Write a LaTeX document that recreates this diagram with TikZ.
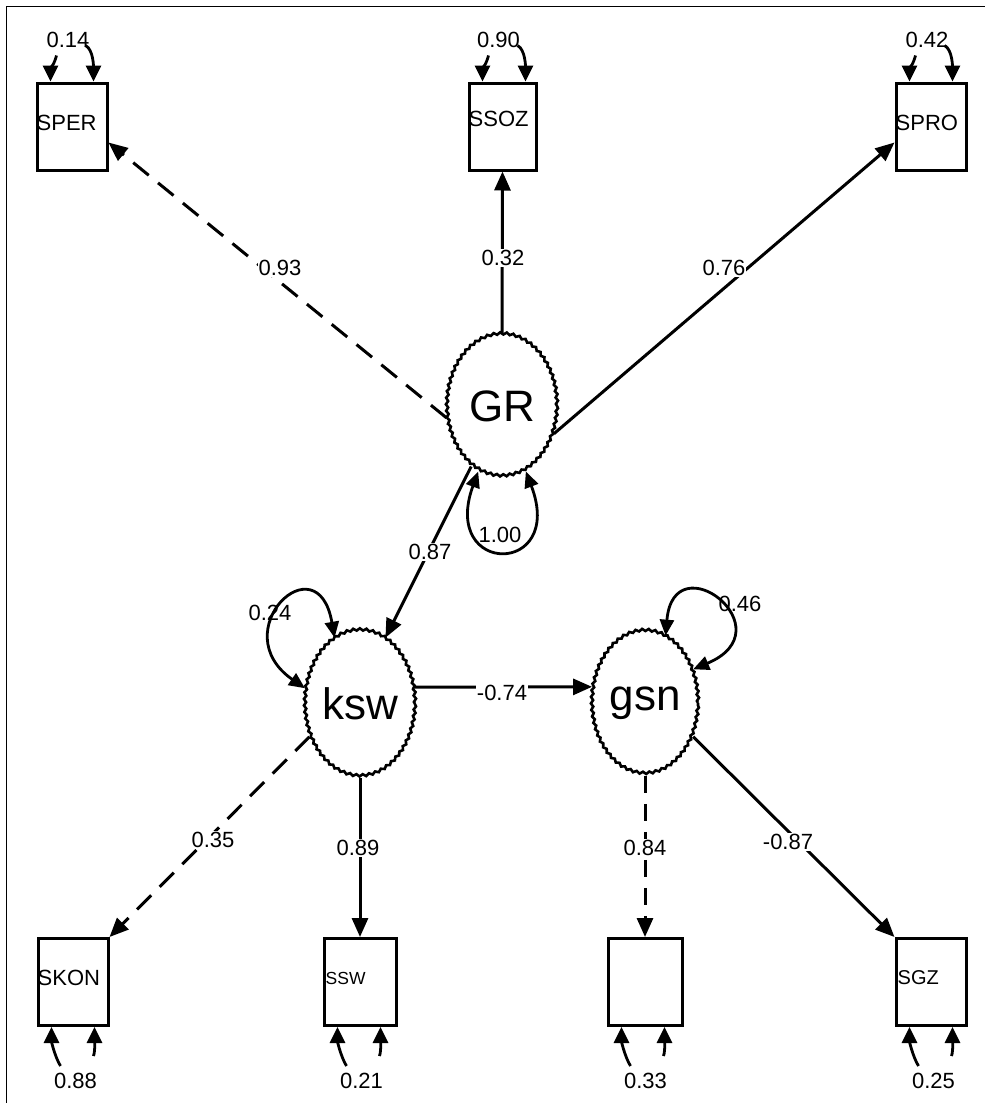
\documentclass[tikz,border=0pt]{standalone}
\usepackage{fontspec}
\setmainfont{Liberation Sans}
\usetikzlibrary{arrows.meta, shapes.geometric, decorations.pathmorphing, calc}
\begin{document}
\begin{tikzpicture}[x=1pt, y=-1pt,
  obs/.style={draw, line width=3pt, rectangle, minimum width=70pt, minimum height=87pt, inner sep=0pt},
  boxtxt/.style={inner sep=0pt, anchor=west, font=\fontsize{22}{22}\selectfont},
  lat/.style={draw, ellipse, line width=2.6pt, inner sep=0pt, font=\fontsize{44}{44}\selectfont,
    decorate, decoration={snake, amplitude=1.1pt, segment length=6.5pt}},
  path/.style={line width=3pt, -{Triangle[length=19pt, width=16pt]}},
  dpath/.style={path, dash pattern=on 20pt off 12pt},
  loop/.style={line width=2.8pt, {Triangle[length=16pt, width=14pt]}-{Triangle[length=16pt, width=14pt]}},
  err/.style={line width=2.8pt, -{Triangle[length=16pt, width=15pt]}},
  num/.style={font=\fontsize{22}{22}\selectfont, fill=white, inner sep=1pt},
  numt/.style={font=\fontsize{22}{22}\selectfont, inner sep=1pt}
]
\useasboundingbox (0,0) rectangle (985,1103);
% frame
\draw[line width=1.8pt] (6.5,1103) -- (6.5,6.5) -- (985,6.5);

% observed boxes
\node[obs] (SPER) at (72,126.5) {};
\node[obs, minimum width=67pt] (SSOZ) at (502.5,126.5) {};
\node[obs] (SPRO) at (931,126.5) {};
\node[obs] (SKON) at (73,982) {};
\node[obs, minimum width=72pt] (SSW) at (360,982) {};
\node[obs, minimum width=74pt] (BLANK) at (645,982) {};
\node[obs] (SGZ) at (931,982) {};

\node[boxtxt] (tSPER) at ([xshift=1pt,yshift=4pt]SPER.west) {SPER};
\node[boxtxt] (tSSOZ) at ([xshift=1pt,yshift=8pt]SSOZ.west) {SSOZ};
\node[boxtxt] (tSPRO) at ([xshift=1pt,yshift=4pt]SPRO.west) {SPRO};
\node[boxtxt] (tSKON) at ([xshift=1pt,yshift=4pt]SKON.west) {SKON};
\node[boxtxt, font=\fontsize{17.5}{17.5}\selectfont] (tSSW) at ([xshift=3pt,yshift=4pt]SSW.west) {SSW};
\node[boxtxt, font=\fontsize{20}{20}\selectfont] (tSGZ) at ([xshift=3pt,yshift=4pt]SGZ.west) {SGZ};

% latent ellipses
\node[lat, minimum width=110pt, minimum height=142pt] (GR) at (502,406) {GR};
\node[lat, minimum width=110pt, minimum height=146pt] (ksw) at (360,704) {ksw};
\node[lat, minimum width=106pt, minimum height=143pt] (gsn) at (645,703) {gsn};

% paths
\draw[dpath] (GR.192) -- ([yshift=-16pt]SPER.east);
\draw[path] (GR.north) -- (SSOZ.south);
\draw[path] (GR.332) -- ([yshift=-16pt]SPRO.west);
\draw[path] (GR.243) -- (ksw.69);
\draw[path] (ksw.17) -- (gsn.163);
\draw[dpath] (ksw.213) -- (SKON.north east);
\draw[path] (ksw.south) -- (SSW.north);
\draw[dpath, dash pattern=on 17pt off 11pt] (gsn.south) -- (BLANK.north);
\draw[path] (gsn.325) -- (SGZ.north west);

% path labels
\node[num] (l093) at (280,268) {0.93};
\node[num] (l032) at (503,258) {0.32};
\node[num] (l076) at (724,268) {0.76};
\node[num] (l087) at (430,552) {0.87};
\node[num] (l074) at (502,693) {-0.74};
\node[num] (l035) at (213,840) {0.35};
\node[num] (l089) at (358,848) {0.89};
\node[num] (l084) at (645,848) {0.84};
\node[num] (l087b) at (788,842) {-0.87};

% latent variance loops
\draw[loop] (GR.250) .. controls +(-38,105) and +(40,105) .. (GR.290);
\node[numt] (v100) at (500,535) {1.00};
\draw[loop] (ksw.111) .. controls +(-17,-98) and +(-82,-57) .. (ksw.164);
\node[numt] (v024) at (270,613) {0.24};
\draw[loop] (gsn.73) .. controls +(8,-95) and +(95,-40) .. (gsn.35);
\node[numt] (v046) at (740,604) {0.46};

% error terms, top boxes
\foreach \b/\v in {SPER/0.14, SSOZ/0.90, SPRO/0.42} {
  \draw[err] ($(\b.north west)+(21,-26)$) .. controls +(-2,8) and +(0,-12) .. ($(\b.north west)+(15,0)$);
  \draw[err] ($(\b.north west)+(50,-36)$) .. controls +(8,4) and +(0,-14) .. ($(\b.north west)+(58,0)$);
  \node[numt] (e\b) at ($(\b.north)+(-4,-42)$) {\v};
}
% error terms, bottom boxes
\foreach \b/\v in {SKON/0.88, SSW/0.21, BLANK/0.33, SGZ/0.25} {
  \draw[err] ($(\b.south west)+(24,39)$) .. controls +(-6,-10) and +(0,14) .. ($(\b.south west)+(15,0)$);
  \draw[err] ($(\b.south west)+(57,29)$) .. controls +(2,-6) and +(0,10) .. ($(\b.south west)+(58,0)$);
  \node[numt] (e\b) at ($(\b.south west)+(39,54)$) {\v};
}
\end{tikzpicture}
\end{document}
